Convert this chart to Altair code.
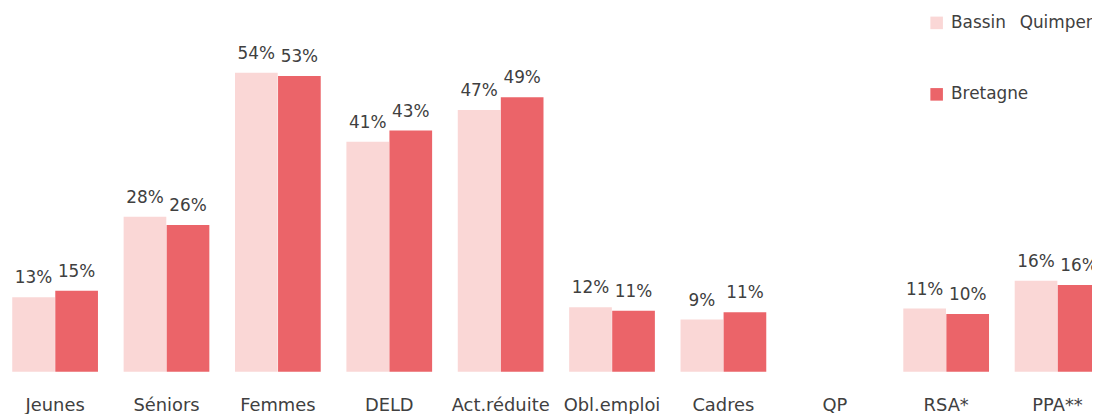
import altair as alt
import pandas as pd

categories = ["Jeunes", "Séniors", "Femmes", "DELD", "Act.réduite", "Obl.emploi",
              "Cadres", "QP", "RSA*", "PPA**"]
series_names = ["Bassin\u2002 Quimper", "Bretagne"]
bassin = [0.134, 0.279, 0.538, 0.414, 0.471, 0.116, 0.094, None, 0.114, 0.164]
bretagne = [0.146, 0.264, 0.532, 0.434, 0.494, 0.110, 0.107, None, 0.104, 0.156]
colors = ["#FAD7D6", "#EB6469"]

rows = []
for i, c in enumerate(categories):
    rows.append({"cat": c, "serie": series_names[0], "value": bassin[i]})
    rows.append({"cat": c, "serie": series_names[1], "value": bretagne[i]})
df = pd.DataFrame(rows)

font = "DejaVu Sans"
textcol = "#404040"

x = alt.X("cat:N", sort=categories,
          scale=alt.Scale(domain=categories, range=[-8.65, 1113.4], round=False,
                          paddingInner=0, paddingOuter=0),
          axis=alt.Axis(title=None, domain=False, ticks=False, labelAngle=0,
                        labelFont=font, labelFontSize=18, labelColor=textcol,
                        labelPadding=25, labelOverlap=False))
xoff = alt.XOffset("serie:N", sort=series_names,
                   scale=alt.Scale(paddingInner=0, paddingOuter=0.294))
y = alt.Y("value:Q", scale=alt.Scale(domain=[0, 0.6]), axis=None)

base = alt.Chart(df).transform_filter("datum.value != null")

bars = base.mark_bar(size=43).encode(
    x=x, xOffset=xoff, y=y,
    color=alt.Color("serie:N", sort=series_names,
                    scale=alt.Scale(domain=series_names, range=colors),
                    legend=alt.Legend(title=None, orient="none", legendX=927, legendY=-24,
                                      direction="vertical", symbolType="square",
                                      symbolSize=160, symbolStrokeWidth=0,
                                      labelFont=font, labelFontSize=17,
                                      labelColor=textcol, labelOffset=6,
                                      rowPadding=54, padding=0, labelLimit=300)),
)

labels = base.mark_text(baseline="alphabetic", dy=-14, font=font, fontSize=17,
                        color=textcol).encode(
    x=x, xOffset=xoff, y=y,
    text=alt.Text("value:Q", format=".0%"),
)

chart = (bars + labels).properties(
    width=1092, height=336,
    autosize=alt.AutoSizeParams(type="none"),
    padding={"left": 0, "top": 29, "right": 0, "bottom": 41},
).configure_view(stroke=None)

chart.save("out.html", embed_options={"renderer": "svg", "actions": False})
